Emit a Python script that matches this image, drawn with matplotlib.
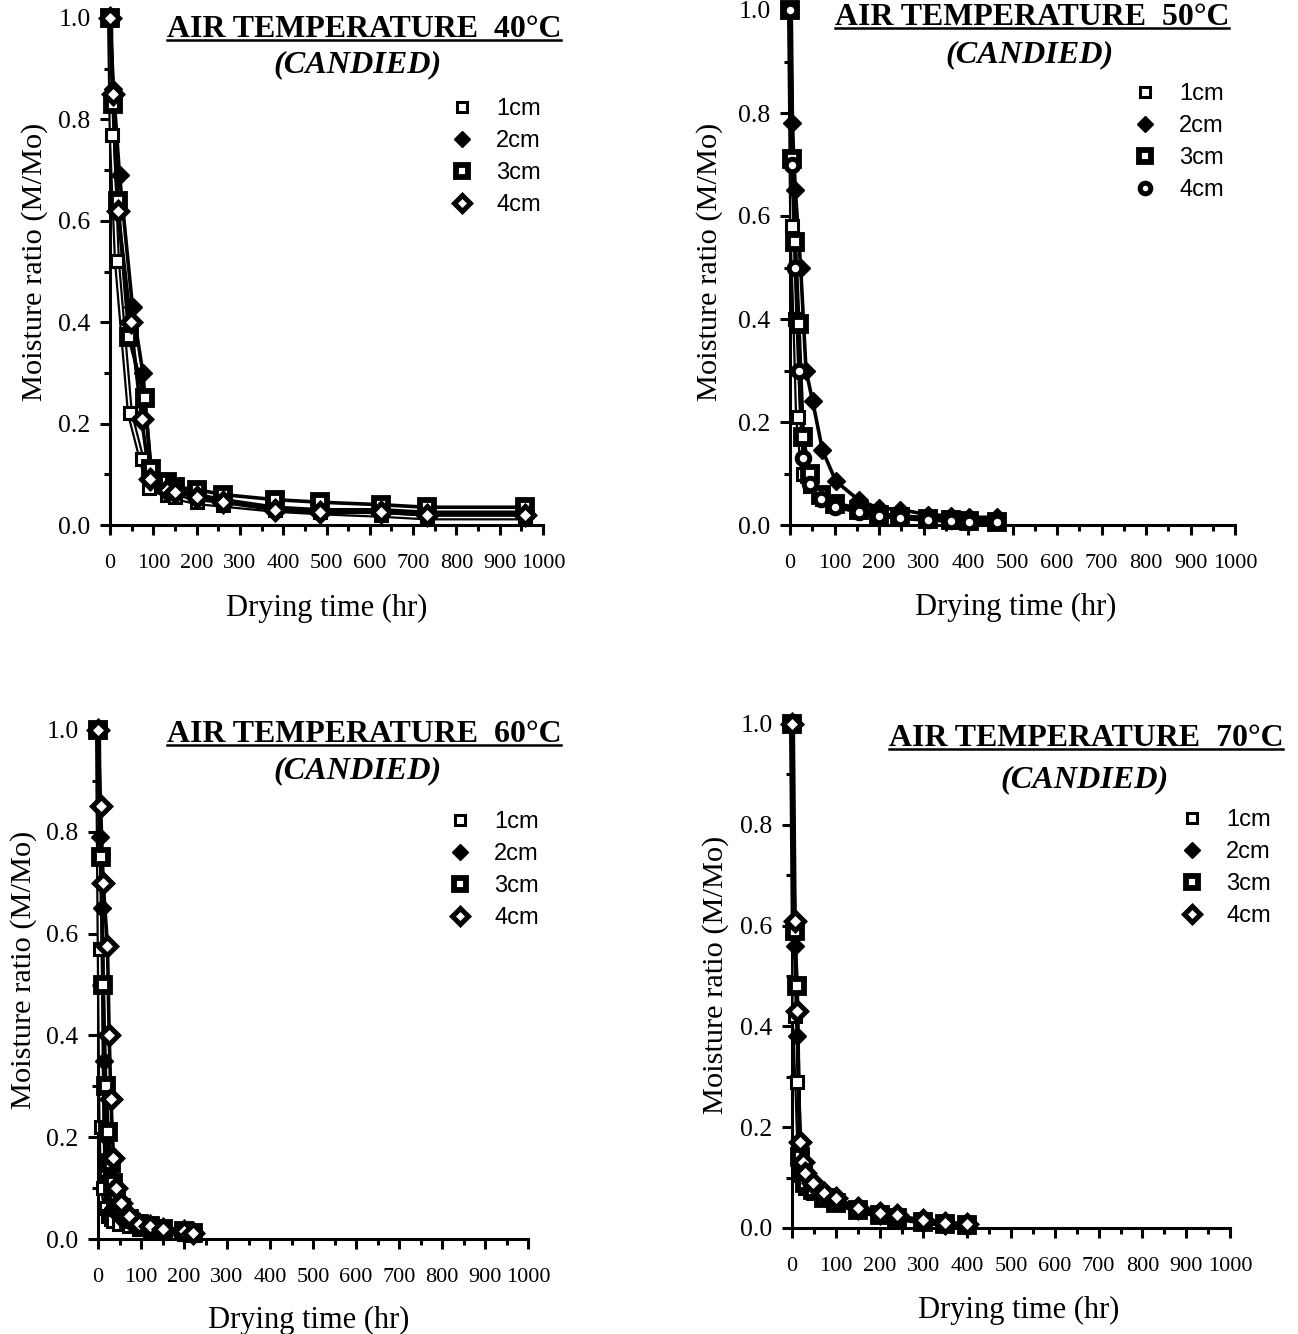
import matplotlib
matplotlib.use('Agg')
import matplotlib.pyplot as plt
import matplotlib.patheffects as pe
from matplotlib.ticker import MultipleLocator
from matplotlib.lines import Line2D

W, H = 1298, 1334

# ---------------- data ----------------
sizes = ['1cm', '2cm', '3cm', '4cm']
temps = ['40°C', '50°C', '60°C', '70°C']
x_ticks = [0, 100, 200, 300, 400, 500, 600, 700, 800, 900, 1000]
y_ticks = [0.0, 0.2, 0.4, 0.6, 0.8, 1.0]

# 40 C
t40_1 = [0, 4, 16, 46, 73, 90, 131, 150, 200, 261, 381, 485, 627, 731, 958]
m40_1 = [1.0, 0.77, 0.52, 0.22, 0.13, 0.073, 0.06, 0.055, 0.045, 0.04, 0.03, 0.025, 0.02, 0.015, 0.015]
t40_2 = [0, 8, 22, 52, 76, 95, 131, 150, 200, 261, 381, 485, 627, 731, 958]
m40_2 = [1.0, 0.86, 0.69, 0.43, 0.30, 0.10, 0.08, 0.07, 0.06, 0.05, 0.035, 0.03, 0.03, 0.025, 0.025]
t40_3 = [0, 8, 18, 44, 80, 95, 131, 150, 200, 261, 381, 485, 627, 731, 958]
m40_3 = [1.0, 0.83, 0.64, 0.37, 0.25, 0.11, 0.085, 0.075, 0.07, 0.06, 0.05, 0.045, 0.04, 0.035, 0.035]
t40_4 = [0, 6, 18, 48, 73, 92, 131, 150, 200, 261, 381, 485, 627, 731, 958]
m40_4 = [1.0, 0.85, 0.62, 0.40, 0.21, 0.09, 0.07, 0.065, 0.055, 0.045, 0.03, 0.025, 0.025, 0.02, 0.02]

# 50 C
t50_1 = [0, 5, 12, 18, 30, 44, 73, 100, 155, 199, 247, 310, 362, 403, 466]
m50_1 = [1.0, 0.58, 0.40, 0.21, 0.10, 0.075, 0.05, 0.04, 0.03, 0.02, 0.015, 0.012, 0.01, 0.008, 0.005]
t50_2 = [0, 5, 12, 24, 36, 51, 73, 103, 155, 199, 247, 310, 362, 403, 466]
m50_2 = [1.0, 0.78, 0.65, 0.50, 0.30, 0.24, 0.145, 0.085, 0.048, 0.033, 0.03, 0.02, 0.018, 0.015, 0.015]
t50_3 = [0, 5, 12, 20, 30, 44, 69, 100, 155, 199, 247, 310, 362, 403, 466]
m50_3 = [1.0, 0.71, 0.55, 0.39, 0.17, 0.10, 0.058, 0.04, 0.03, 0.02, 0.015, 0.012, 0.01, 0.008, 0.006]
t50_4 = [0, 5, 12, 20, 30, 44, 69, 100, 155, 199, 247, 310, 362, 403, 466]
m50_4 = [1.0, 0.70, 0.50, 0.30, 0.13, 0.08, 0.05, 0.035, 0.025, 0.018, 0.014, 0.01, 0.008, 0.006, 0.005]

# 60 C
t60_1 = [0, 4, 8, 12, 18, 24, 30, 36, 48, 72, 96, 120, 150, 200, 220]
m60_1 = [1.0, 0.57, 0.22, 0.10, 0.06, 0.045, 0.04, 0.035, 0.03, 0.025, 0.02, 0.015, 0.012, 0.01, 0.008]
t60_2 = [0, 4, 10, 14, 18, 24, 30, 36, 48, 72, 96, 120, 150, 200, 220]
m60_2 = [1.0, 0.79, 0.65, 0.35, 0.20, 0.12, 0.08, 0.06, 0.045, 0.035, 0.025, 0.02, 0.015, 0.012, 0.01]
t60_3 = [0, 6, 12, 18, 24, 30, 36, 42, 54, 72, 96, 120, 150, 200, 220]
m60_3 = [1.0, 0.75, 0.50, 0.30, 0.21, 0.15, 0.11, 0.08, 0.06, 0.04, 0.03, 0.025, 0.02, 0.015, 0.012]
t60_4 = [0, 6, 12, 22, 26, 30, 36, 42, 54, 72, 96, 120, 150, 200, 220]
m60_4 = [1.0, 0.85, 0.70, 0.575, 0.40, 0.275, 0.16, 0.10, 0.07, 0.045, 0.03, 0.025, 0.02, 0.015, 0.012]

# 70 C
t70_1 = [0, 6, 12, 18, 24, 30, 48, 72, 100, 150, 200, 240, 300, 350, 400]
m70_1 = [1.0, 0.42, 0.29, 0.12, 0.09, 0.08, 0.07, 0.06, 0.05, 0.035, 0.025, 0.02, 0.012, 0.008, 0.005]
t70_2 = [0, 6, 12, 18, 24, 30, 48, 72, 100, 150, 200, 240, 300, 350, 400]
m70_2 = [1.0, 0.56, 0.38, 0.15, 0.12, 0.10, 0.08, 0.065, 0.055, 0.04, 0.03, 0.022, 0.015, 0.01, 0.008]
t70_3 = [0, 6, 12, 18, 24, 30, 48, 72, 100, 150, 200, 240, 300, 350, 400]
m70_3 = [1.0, 0.59, 0.48, 0.14, 0.11, 0.09, 0.075, 0.06, 0.05, 0.035, 0.025, 0.02, 0.012, 0.008, 0.006]
t70_4 = [0, 6, 12, 18, 24, 30, 48, 72, 100, 150, 200, 240, 300, 350, 400]
m70_4 = [1.0, 0.61, 0.43, 0.17, 0.13, 0.11, 0.09, 0.07, 0.06, 0.04, 0.03, 0.025, 0.015, 0.01, 0.008]

series = {
    '40°C': [(t40_1, m40_1), (t40_2, m40_2), (t40_3, m40_3), (t40_4, m40_4)],
    '50°C': [(t50_1, m50_1), (t50_2, m50_2), (t50_3, m50_3), (t50_4, m50_4)],
    '60°C': [(t60_1, m60_1), (t60_2, m60_2), (t60_3, m60_3), (t60_4, m60_4)],
    '70°C': [(t70_1, m70_1), (t70_2, m70_2), (t70_3, m70_3), (t70_4, m70_4)],
}

# ---------------- layout (pixels) ----------------
layout = {
    # axes box: x0, x1000, y0, y1 (pixel rows)
    '40°C': dict(box=(110, 543, 525, 18), title=(364, 37), cand=(358, 72),
                 leg=(462, 107), xl=(327, 608), yl=(35, 262)),
    '50°C': dict(box=(790, 1235, 525, 10), title=(1032, 25), cand=(1030, 62),
                 leg=(1145, 92), xl=(1016, 607), yl=(710, 262)),
    '60°C': dict(box=(98, 528, 1239, 730), title=(364, 742), cand=(358, 778),
                 leg=(460, 820), xl=(309, 1320), yl=(24, 970)),
    '70°C': dict(box=(792, 1230, 1228, 724), title=(1086, 746), cand=(1085, 787),
                 leg=(1192, 818), xl=(1019, 1310), yl=(716, 975)),
}

SERIF = 'Liberation Serif'
SANS = 'Liberation Sans'

fig = plt.figure(figsize=(W / 100, H / 100), dpi=100)
renderer = fig.canvas.get_renderer()


def fx(px):
    return px / W


def fy(py):
    return 1 - py / H


def fit_text(x, y, s, width, rotation=0, **kw):
    t = fig.text(fx(x), fy(y), s, fontsize=10, **kw)
    w = t.get_window_extent(renderer).width
    t.set_fontsize(10 * width / w)
    t.set_rotation(rotation)
    return t


def styles(temp):
    m4 = 'o' if temp == '50°C' else 'D'
    return [
        dict(marker='s', ms=8.5, mfc='white', mec='black', mew=2.2),
        dict(marker='D', ms=9, mfc='black', mec='black', mew=1.0),
        dict(marker='s', ms=9.5, mfc='white', mec='black', mew=4.2),
        dict(marker=m4, ms=9, mfc='white', mec='black', mew=3.6),
    ]


for temp in temps:
    L = layout[temp]
    x0, x1, y0, y1 = L['box']
    ax = fig.add_axes([fx(x0), fy(y0), (x1 - x0) / W, (y0 - y1) / H])
    ax.set_xlim(0, 1000)
    ax.set_ylim(0, 1.0)
    for sp in ['top', 'right']:
        ax.spines[sp].set_visible(False)
    for sp in ['left', 'bottom']:
        ax.spines[sp].set_linewidth(2.2)
    ax.set_xticks(x_ticks)
    ax.set_yticks(y_ticks)
    ax.set_yticklabels([f'{v:.1f}' for v in y_ticks])
    ax.xaxis.set_minor_locator(MultipleLocator(50))
    ax.yaxis.set_minor_locator(MultipleLocator(0.1))
    ax.tick_params(which='major', direction='out', length=7, width=2.2)
    ax.tick_params(which='minor', direction='out', length=4.5, width=2.2)
    ax.tick_params(axis='x', which='major', pad=14, labelsize=16)
    ax.tick_params(axis='y', which='major', pad=7, labelsize=18.5)
    for lab in ax.get_xticklabels() + ax.get_yticklabels():
        lab.set_fontfamily(SERIF)

    st = styles(temp)
    handles = []
    for i, (t, m) in enumerate(series[temp]):
        if i == 0:
            ax.plot(t, m, color='white', lw=1.2, clip_on=False, zorder=3,
                    path_effects=[pe.Stroke(linewidth=4.4, foreground='black'), pe.Normal()])
        else:
            ax.plot(t, m, color='black', lw=2.6, clip_on=False, zorder=3)
        h, = ax.plot(t, m, ls='none', clip_on=False, zorder=4, label=sizes[i], **st[i])
        handles.append(h)

    lx, ly = L['leg']
    fs = 17
    fs_px = fs * 100 / 72
    ax.legend(handles=handles, loc='upper left',
              bbox_to_anchor=(fx(lx - 0.5 * fs_px), fy(ly - 0.45 * fs_px + 1.5)),
              bbox_transform=fig.transFigure, frameon=False,
              borderpad=0, borderaxespad=0, handlelength=1.0,
              handletextpad=0.95, labelspacing=0.43, markerscale=0.85,
              prop={'family': SANS, 'size': fs})

    # titles
    tx, tyy = L['title']
    tt = fit_text(tx, tyy, f'AIR TEMPERATURE  {temp}', 394, ha='center', va='baseline',
                  family=SERIF, fontweight='bold')
    bb = tt.get_window_extent(renderer)
    base_y = fy(tyy) * H
    fig.add_artist(Line2D([bb.x0 / W, bb.x1 / W], [(base_y - 3) / H, (base_y - 3) / H],
                          color='black', lw=1.8, transform=fig.transFigure))
    cx, cy = L['cand']
    fit_text(cx, cy, '(CANDIED)', 168, ha='center', va='baseline', family=SERIF,
             fontweight='bold', fontstyle='italic')

    # axis labels
    xlx, xly = L['xl']
    fit_text(xlx, xly, 'Drying time (hr)', 202, ha='center', va='center', family=SERIF)
    ylx, yly = L['yl']
    fit_text(ylx, yly, 'Moisture ratio (M/Mo)', 278, rotation=90, ha='center', va='center',
             family=SERIF)

fig.savefig('out.png', dpi=100)
